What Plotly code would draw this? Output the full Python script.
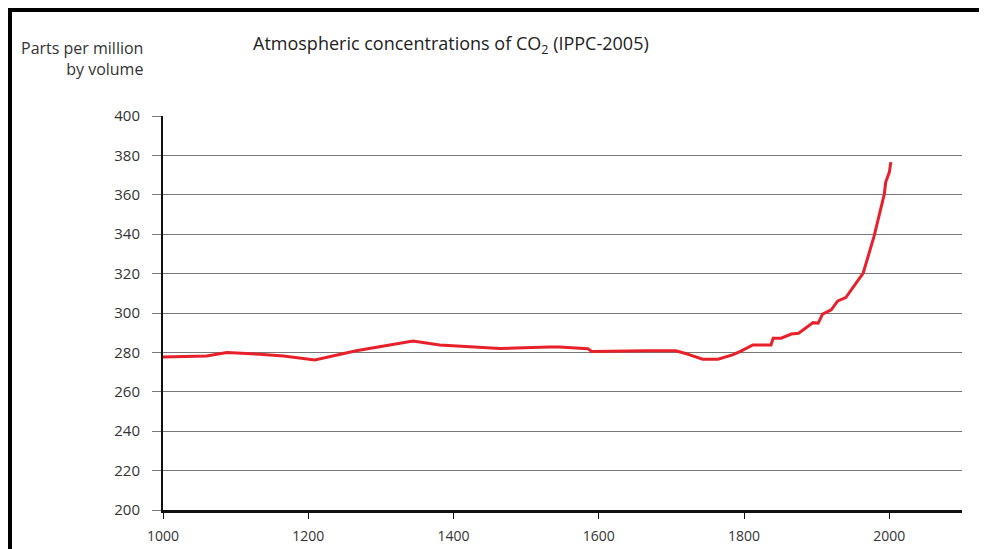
import plotly.graph_objects as go

years = [1000, 1060, 1088, 1120, 1133, 1166, 1209, 1266, 1344, 1381, 1464, 1532, 1546,
         1585, 1590, 1665, 1706, 1718, 1743, 1764, 1784, 1795, 1812, 1837, 1840, 1851,
         1865, 1875, 1895, 1902, 1908, 1920, 1929, 1940, 1952, 1964, 1979, 1993, 1995,
         2000, 2002]
ppm = [277.7, 278.2, 279.9, 279.6, 279.1, 278.2, 276.2, 280.8, 285.8, 283.8, 282.0, 282.7, 282.7,
       281.9, 280.5, 280.8, 280.8, 279.6, 276.5, 276.5, 278.7, 280.5, 283.8, 283.8, 287.2, 287.2,
       289.3, 289.7, 295.1, 294.8, 299.4, 301.6, 306.1, 307.8, 313.8, 320.3, 339.0, 360.3, 366.5,
       371.5, 376.6]

x_ticks = [1000, 1200, 1400, 1600, 1800, 2000]
y_ticks = [200, 220, 240, 260, 280, 300, 320, 340, 360, 380, 400]

FONT = "Open Sans"
OFF = 8  # page body margin
W, H = 987 - OFF, 549 - OFF
L, R, T, B = 163 - OFF, 962 - OFF, 116 - OFF, 510 - OFF
pw, ph = R - L, B - T

def px(x):
    return (x - OFF - L) / pw

def py(y):
    return (B - (y - OFF)) / ph

fig = go.Figure()
fig.add_trace(go.Scatter(x=years, y=ppm, mode="lines",
                         line=dict(color="#e8202a", width=3), showlegend=False))

fig.update_layout(
    width=W, height=H,
    margin=dict(l=L, r=W - R, t=T, b=H - B),
    paper_bgcolor="white", plot_bgcolor="white",
    font=dict(family=FONT, size=14, color="#333"),
    xaxis=dict(range=[1000, 2100], tickvals=x_ticks, ticktext=[str(v) for v in x_ticks],
               showgrid=False, zeroline=False, showline=True, linecolor="#111", linewidth=3,
               ticks="outside", ticklen=6, tickwidth=1, tickcolor="#111",
               ticklabelstandoff=5, automargin=False,
               tickfont=dict(size=14, color="#333")),
    yaxis=dict(range=[200, 400], tickvals=y_ticks, ticktext=[str(v) for v in y_ticks],
               showgrid=True, gridcolor="#777", gridwidth=1, zeroline=False,
               showline=True, linecolor="#111", linewidth=2,
               ticks="outside", ticklen=9, tickwidth=1, tickcolor="#777",
               ticklabelstandoff=9, automargin=False,
               tickfont=dict(size=15, color="#333")),
    annotations=[
        dict(text="Atmospheric concentrations of CO<sub>2</sub> (IPPC-2005)",
             xref="paper", yref="paper", x=px(251), y=py(45), xanchor="left", yanchor="middle",
             showarrow=False, font=dict(family=FONT, size=18, color="#222")),
        dict(text="Parts per million<br>by volume",
             xref="paper", yref="paper", x=px(145), y=py(59), xanchor="right", yanchor="middle",
             align="right", showarrow=False, font=dict(family=FONT, size=16, color="#333")),
    ],
    shapes=[
        dict(type="rect", xref="paper", yref="paper", x0=px(8), x1=px(1000), y0=py(12), y1=py(8),
             fillcolor="black", line=dict(width=0), layer="above"),
        dict(type="rect", xref="paper", yref="paper", x0=px(8), x1=px(12), y0=py(560), y1=py(8),
             fillcolor="black", line=dict(width=0), layer="above"),
    ],
)

fig.write_html("out.html")
